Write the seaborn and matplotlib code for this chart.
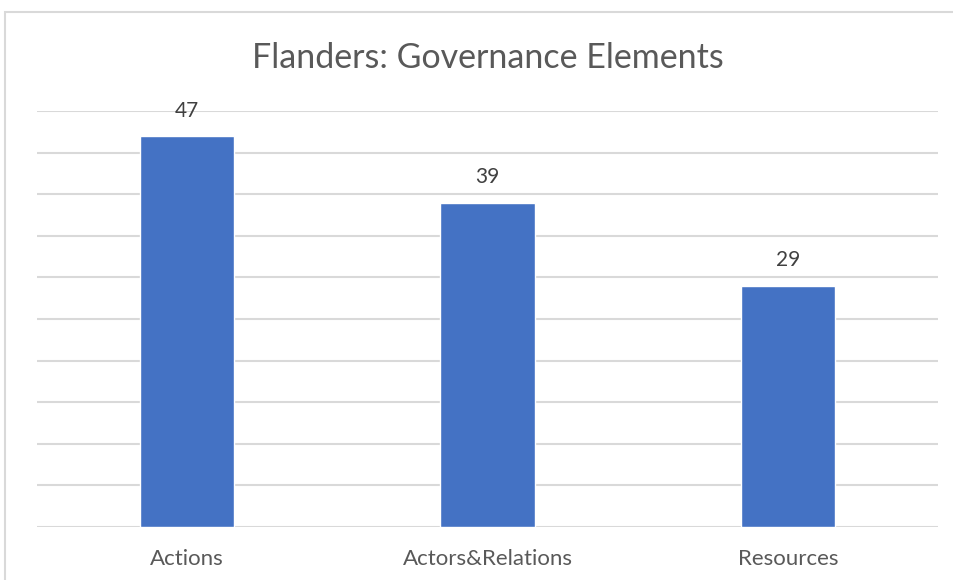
import matplotlib
matplotlib.use("Agg")
import matplotlib.pyplot as plt
import seaborn as sns
import pandas as pd
from matplotlib.patches import Rectangle

categories = ["Actions", "Actors&Relations", "Resources"]
values = [47, 39, 29]
title = "Flanders: Governance Elements"

df = pd.DataFrame({"category": categories, "value": values})

sns.set_theme(style="white")
plt.rcParams["font.family"] = ["Lato", "DejaVu Sans"]

fig = plt.figure(figsize=(9.54, 5.8), dpi=100)
ax = fig.add_axes([37/954, 53/580, 901/954, 416/580])

sns.barplot(data=df, x="category", y="value", color="#4472C4", width=0.315,
            saturation=1, ax=ax, zorder=3)

ax.set_ylim(0, 50)
ax.set_xlim(-0.5, 2.5)
ax.set_yticks(range(0, 51, 5))
ax.yaxis.grid(True, color="#d9d9d9", linewidth=1.5, zorder=0)
ax.set_axisbelow(True)
ax.tick_params(axis="y", left=False, labelleft=False)
ax.tick_params(axis="x", bottom=False, labelsize=16, labelcolor="#595959", pad=10)
ax.set_xlabel("")
ax.set_ylabel("")
for s in ax.spines.values():
    s.set_visible(False)

for container in ax.containers:
    ax.bar_label(container, labels=[str(v) for v in values], padding=11,
                 fontsize=15, color="#404040")

fig.text(488/954, 1 - 58/580, title, ha="center", va="center",
         fontsize=24.5, color="#595959")

fig.patches.append(Rectangle((5/954, -0.05), 1.0, 1 - 12/580 + 0.05,
                             transform=fig.transFigure, fill=False,
                             edgecolor="#d9d9d9", linewidth=1.5))

fig.savefig("out.png", dpi=100)
